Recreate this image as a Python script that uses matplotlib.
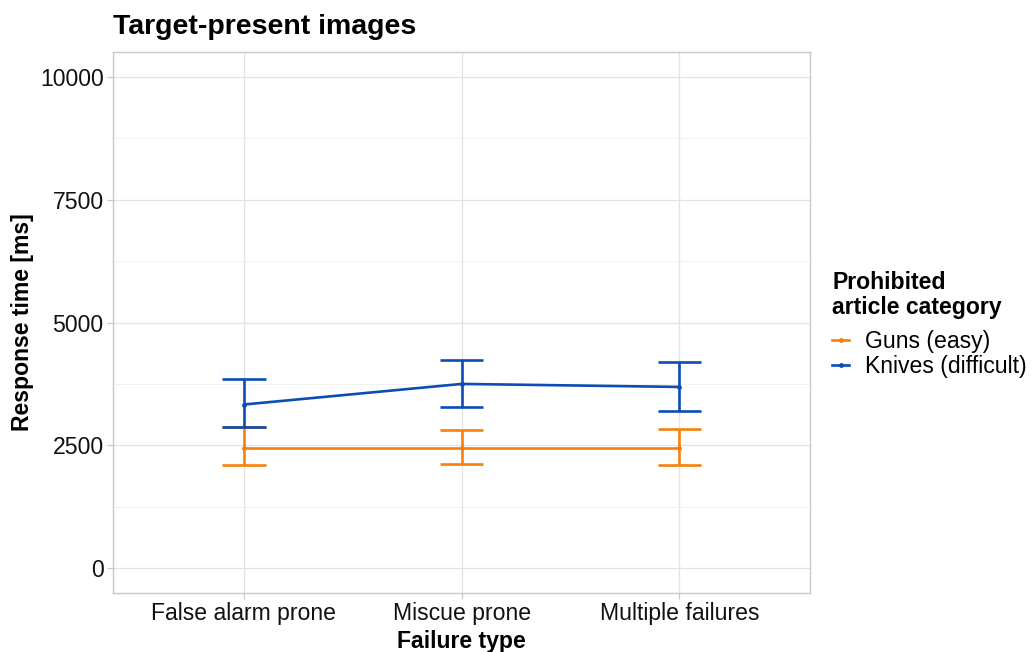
import matplotlib
matplotlib.use('Agg')
import matplotlib.pyplot as plt
from matplotlib.lines import Line2D

plt.rcParams['font.family'] = ['Liberation Sans', 'DejaVu Sans']

categories = ['False alarm prone', 'Miscue prone', 'Multiple failures']
groups = ['Guns (easy)', 'Knives (difficult)']

guns_mean = [2439, 2439, 2439]
guns_low = [2095, 2122, 2095]
guns_high = [2875, 2811, 2838]

knives_mean = [3331, 3750, 3689]
knives_low = [2878, 3277, 3209]
knives_high = [3858, 4243, 4203]

yticks = [0, 2500, 5000, 7500, 10000]

colors = {'Guns (easy)': '#F5800A', 'Knives (difficult)': '#0B4DB5'}
series = {
    'Guns (easy)': (guns_mean, guns_low, guns_high),
    'Knives (difficult)': (knives_mean, knives_low, knives_high),
}

fs = 16.6
fig = plt.figure(figsize=(10.35, 6.52), dpi=100)
ax = fig.add_axes([0.1095, 0.0909, 0.6731, 0.8289])

x = list(range(1, len(categories) + 1))
lw = 1.9
cap = 0.1
for name in groups:
    mean, low, high = series[name]
    c = colors[name]
    ax.plot(x, mean, color=c, lw=lw, zorder=3, solid_capstyle='butt')
    ax.scatter(x, mean, color=c, s=6, zorder=4)
    for xi, lo, hi in zip(x, low, high):
        ax.plot([xi, xi], [lo, hi], color=c, lw=lw, zorder=3, solid_capstyle='butt')
        ax.plot([xi - cap, xi + cap], [lo, lo], color=c, lw=lw, zorder=3, solid_capstyle='butt')
        ax.plot([xi - cap, xi + cap], [hi, hi], color=c, lw=lw, zorder=3, solid_capstyle='butt')

ax.set_xlim(0.4, 3.6)
ax.set_ylim(-500, 10500)
ax.set_xticks(x)
ax.set_xticklabels(categories)
ax.set_yticks(yticks)
ax.set_yticklabels([str(t) for t in yticks])
ax.set_yticks([1250, 3750, 6250, 8750], minor=True)

ax.grid(True, which='major', color='#E3E3E3', lw=0.9, zorder=0)
ax.grid(True, which='minor', axis='y', color='#EFEFEF', lw=0.6, zorder=0)
for s in ax.spines.values():
    s.set_color('#C8C8C8')
    s.set_linewidth(1.0)
ax.tick_params(axis='both', which='major', labelsize=fs, color='#C8C8C8',
               length=4, width=0.9, labelcolor='#111111', pad=3)
ax.tick_params(axis='both', which='minor', length=0)

ax.set_xlabel('Failure type', fontsize=fs, fontweight='bold', labelpad=3)
ax.set_ylabel('Response time [ms]', fontsize=fs, fontweight='bold', labelpad=4)
ax.set_title('Target-present images', fontsize=20.5, fontweight='bold',
             loc='left', pad=13)

# legend title drawn separately so the gap to the keys matches
fig.text(832 / 1035, 1 - 271 / 652, 'Prohibited\narticle category',
         fontsize=fs, fontweight='bold', ha='left', va='top', linespacing=1.12)

handles = [Line2D([0], [0], color=colors[g], lw=lw, marker='o', markersize=2.5)
           for g in groups]
leg = fig.legend(handles, groups, loc='center left',
                 bbox_to_anchor=(832 / 1035, 1 - 354 / 652),
                 frameon=False, fontsize=fs,
                 handlelength=0.75, handletextpad=0.7, labelspacing=0.05,
                 borderpad=0, borderaxespad=0)

fig.savefig('out.png', dpi=100)
